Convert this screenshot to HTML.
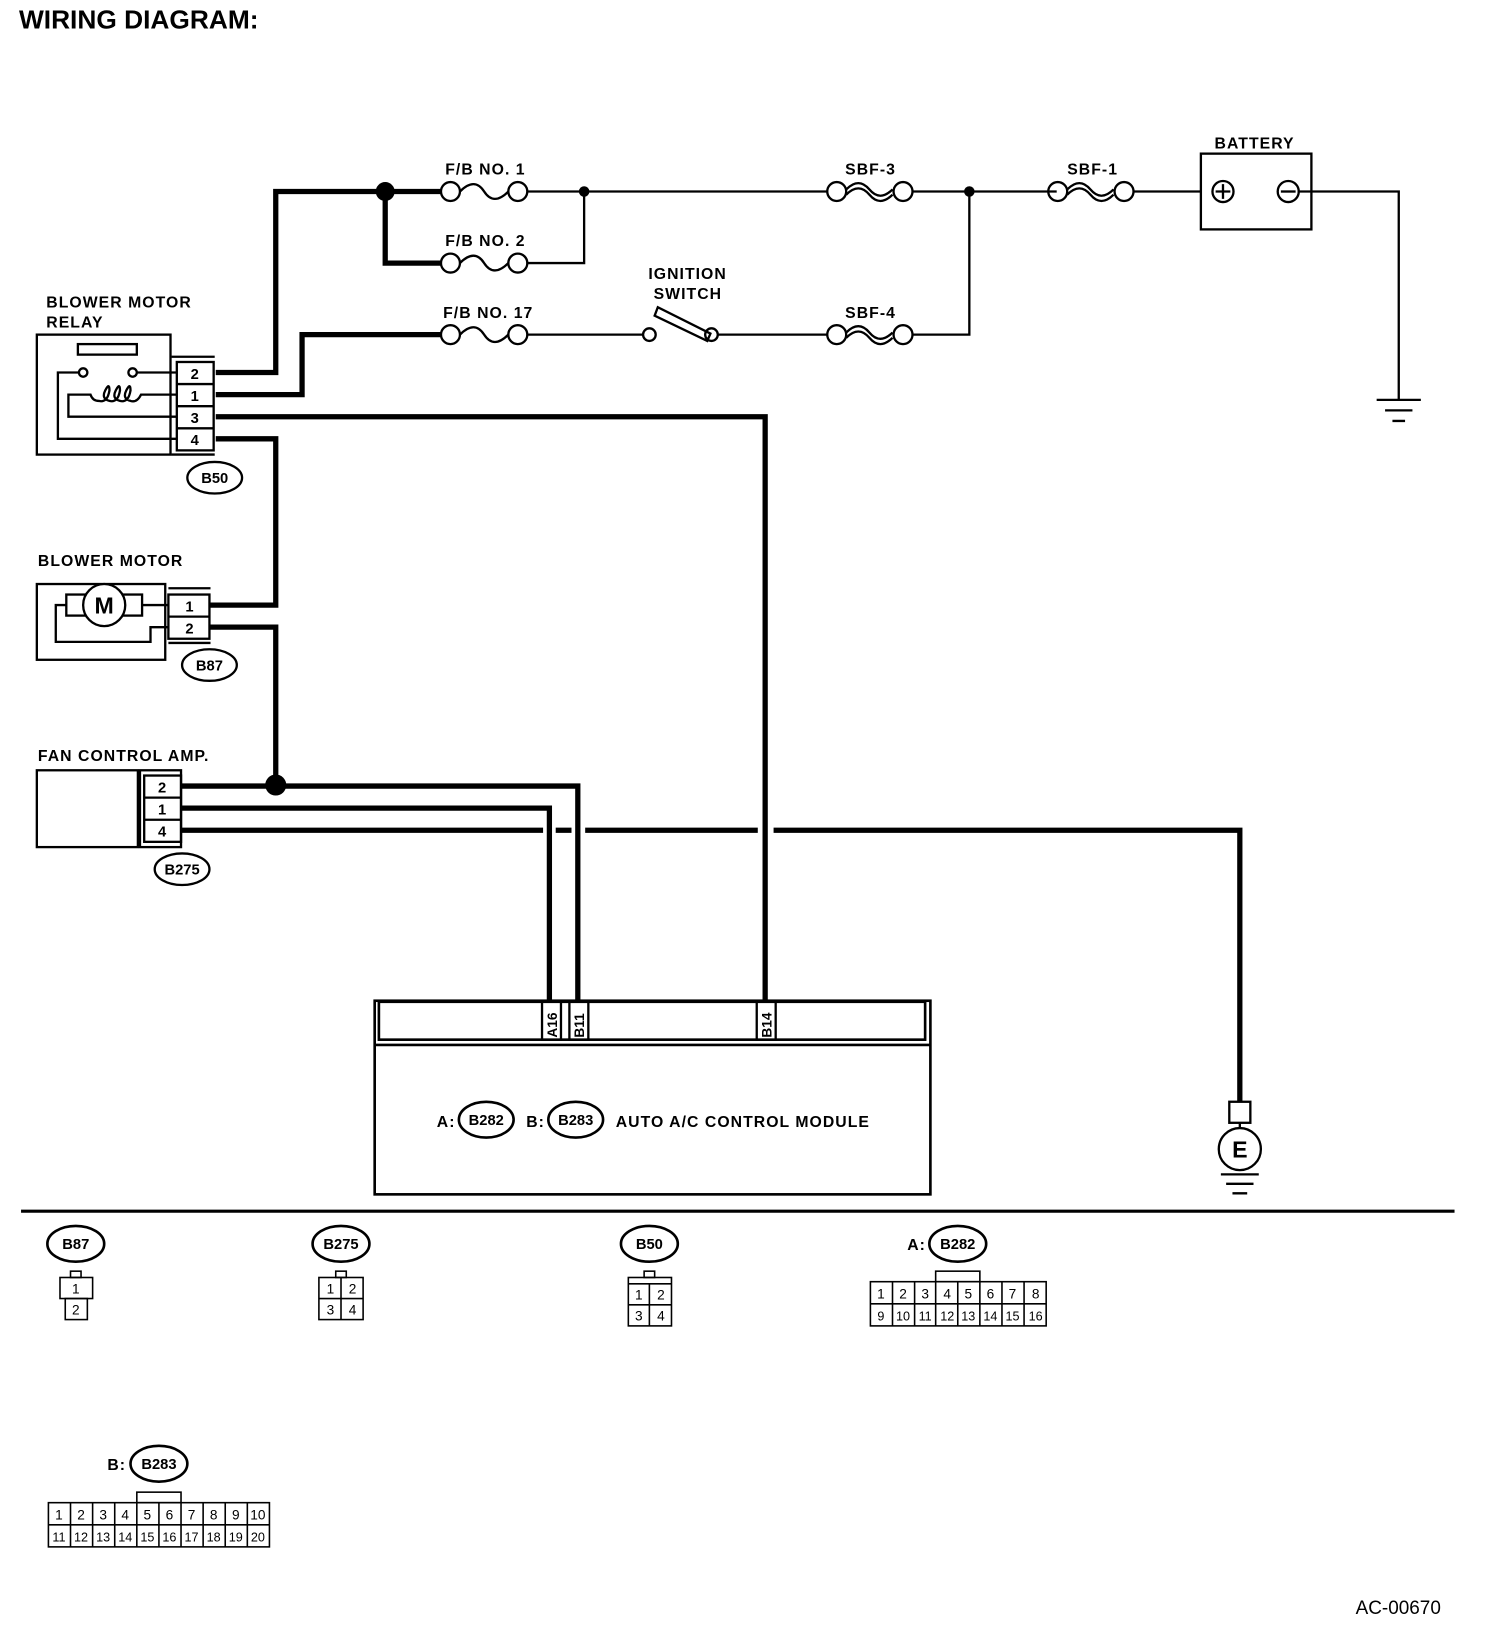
<!DOCTYPE html>
<html><head><meta charset="utf-8"><style>
html,body{margin:0;padding:0;background:#fff}
svg{display:block}
text{font-family:"Liberation Sans",Arial,sans-serif;fill:#000}
.l{font-weight:bold;font-size:15px;letter-spacing:1px}
.p{font-size:13px}
</style></head><body>
<svg width="1504" height="1650" viewBox="0 0 1429 1568" preserveAspectRatio="none" xmlns="http://www.w3.org/2000/svg">
<rect width="1440" height="1580" fill="#fff"/>
<text x="18" y="27" font-size="25" font-weight="bold">WIRING DIAGRAM:</text>

<g fill="none" stroke="#000">
<!-- thin wires -->
<g stroke-width="2.2">
<path d="M501 182H786M867 182H1004M1077 182H1141M1233 182H1329V380"/>
<path d="M501 250H555V182"/>
<path d="M501 318H611M682 318H786M867 318H921V182"/>
</g>
<!-- thick wires -->
<g stroke-width="5">
<path d="M205 354H262V182H419"/>
<path d="M366 182V250H419"/>
<path d="M205 375H287V318H419"/>
<path d="M205 396H727V950"/>
<path d="M205 417H262V575H200"/>
<path d="M200 596H262V746"/>
<path d="M172 747H549V950"/>
<path d="M172 768H522V950"/>
<path d="M172 789H516M528 789H543M556 789H720M735 789H1178V1047"/>
</g>
<!-- fuses -->
<g stroke-width="2.2">
<circle cx="428" cy="182" r="9"/><circle cx="492" cy="182" r="9"/><path d="M437 182q14-14 23 0t23 0"/>
<circle cx="428" cy="250" r="9"/><circle cx="492" cy="250" r="9"/><path d="M437 250q14-14 23 0t23 0"/>
<circle cx="428" cy="318" r="9"/><circle cx="492" cy="318" r="9"/><path d="M437 318q14-14 23 0t23 0"/>
<circle cx="795" cy="182" r="9"/><circle cx="858" cy="182" r="9"/><path d="M804 180q12-12 22 0t22 0M804 185q12-12 22 0t22 0"/>
<circle cx="795" cy="318" r="9"/><circle cx="858" cy="318" r="9"/><path d="M804 316q12-12 22 0t22 0M804 321q12-12 22 0t22 0"/>
<circle cx="1005" cy="182" r="9"/><circle cx="1068" cy="182" r="9"/><path d="M1014 180q12-12 22 0t22 0M1014 185q12-12 22 0t22 0"/>
<circle cx="617" cy="318" r="6"/><circle cx="676" cy="318" r="6"/>
<path d="M625 292l-3 8 50 24 3-7z"/>
</g>
<g stroke-width="2.2">
<!-- battery -->
<rect x="1141" y="146" width="105" height="72"/>
<circle cx="1162" cy="182" r="10"/><path d="M1155 182h14M1162 175v14"/>
<circle cx="1224" cy="182" r="10"/><path d="M1217 182h14"/>
<path d="M1308 380h42M1316 390h26M1323 400h12"/>
<!-- relay -->
<rect x="35" y="318" width="127" height="114"/>
<rect x="74" y="327" width="56" height="10"/>
<path d="M163 339h41M163 432h41"/>
<rect x="168" y="344" width="35" height="84"/>
<path d="M168 365h35M168 386h35M168 407h35"/>
<circle cx="79" cy="354" r="4"/><circle cx="126" cy="354" r="4"/>
<path d="M75 354H55V417H168M130 354H168"/>
<path d="M168 375H134q-4 8-10 6q-8-2-4-10t4 0q-2 12-10 10q-8-2-4-10t4 0q-2 12-10 10q-8-2-4-10t4 0q-2 12-10 10q-6 0-8-6H65V396H168"/>
<!-- blower motor -->
<rect x="35" y="555" width="122" height="72"/>
<path d="M160 559h40M160 611h40"/>
<rect x="160" y="565" width="39" height="42"/>
<path d="M160 586h39"/>
<rect x="63" y="565" width="72" height="20"/>
<circle cx="99" cy="575" r="20" fill="#fff"/>
<path d="M63 575H53V610H143V596H160M135 575H160"/>
<!-- fan amp -->
<rect x="35" y="732" width="96" height="73"/>
<rect x="133" y="732" width="39" height="73"/>
<rect x="137" y="737" width="35" height="63"/>
<path d="M137 758h35M137 779h35"/>
<!-- module -->
<rect x="356" y="951" width="528" height="184" stroke-width="2.5"/>
<rect x="360" y="952" width="519" height="36" stroke-width="2.5"/>
<path d="M356 993H884" stroke-width="2.5"/>
<rect x="515" y="952" width="18" height="36"/><rect x="541" y="952" width="18" height="36"/><rect x="719" y="952" width="18" height="36"/>
<!-- E ground -->
<rect x="1168" y="1047" width="20" height="20"/>
<circle cx="1178" cy="1092" r="20"/>
<path d="M1178 1067v5M1160 1116h36M1165 1125h26M1171 1134h14"/>
<path d="M20 1151H1382" stroke-width="3"/>
<!-- connector ovals -->
<ellipse cx="204" cy="454" rx="26" ry="15"/>
<ellipse cx="199" cy="632" rx="26" ry="15"/>
<ellipse cx="173" cy="826" rx="26" ry="15"/>
<ellipse cx="462" cy="1064" rx="26" ry="17" stroke-width="2.5"/>
<ellipse cx="547" cy="1064" rx="26" ry="17" stroke-width="2.5"/>
<ellipse cx="72" cy="1182" rx="27" ry="17" stroke-width="2.5"/>
<ellipse cx="324" cy="1182" rx="27" ry="17" stroke-width="2.5"/>
<ellipse cx="617" cy="1182" rx="27" ry="17" stroke-width="2.5"/>
<ellipse cx="910" cy="1182" rx="27" ry="17" stroke-width="2.5"/>
<ellipse cx="151" cy="1391" rx="27" ry="17" stroke-width="2.5"/>
</g>
<g stroke-width="1.5">
<rect x="67" y="1208" width="10" height="6"/><rect x="57" y="1214" width="31" height="20"/><rect x="62" y="1234" width="21" height="20"/>
<rect x="319" y="1208" width="10" height="6"/><rect x="303" y="1214" width="42" height="40"/><path d="M324 1214v40M303 1234h42"/>
<rect x="612" y="1208" width="10" height="6"/><rect x="597" y="1214" width="41" height="46"/><path d="M597 1220h41M617 1220v40M597 1240h41"/>
<rect x="889" y="1208" width="42" height="10"/><rect x="827" y="1218" width="167" height="42"/><path d="M827 1239h167"/>
<path d="M848 1218v42M869 1218v42M889 1218v42M910 1218v42M931 1218v42M952 1218v42M973 1218v42"/>
<rect x="130" y="1418" width="42" height="10"/><rect x="46" y="1428" width="210" height="42"/><path d="M46 1449h210"/>
<path d="M67 1428v42M88 1428v42M109 1428v42M130 1428v42M151 1428v42M172 1428v42M193 1428v42M214 1428v42M235 1428v42"/>
</g>
</g>
<!-- dots -->
<g fill="#000">
<circle cx="366" cy="182" r="9"/><circle cx="555" cy="182" r="5"/><circle cx="921" cy="182" r="5"/><circle cx="262" cy="746" r="10"/>
</g>

<text class="l" x="423" y="166">F/B NO. 1</text>
<text class="l" x="423" y="234">F/B NO. 2</text>
<text class="l" x="421" y="302">F/B NO. 17</text>
<text class="l" x="616" y="265">IGNITION</text>
<text class="l" x="621" y="284">SWITCH</text>
<text class="l" x="803" y="166">SBF-3</text>
<text class="l" x="803" y="302">SBF-4</text>
<text class="l" x="1014" y="166">SBF-1</text>
<text class="l" x="1154" y="141">BATTERY</text>
<text class="l" x="44" y="292">BLOWER MOTOR</text>
<text class="l" x="44" y="311">RELAY</text>
<text class="l" x="36" y="538">BLOWER MOTOR</text>
<text class="l" x="36" y="723">FAN CONTROL AMP.</text>
<text class="l" x="585" y="1071">AUTO A/C CONTROL MODULE</text>
<text class="l" x="415" y="1071">A:</text><text class="l" x="500" y="1071">B:</text>
<text class="l" x="862" y="1188">A:</text><text class="l" x="102" y="1397">B:</text>
<g font-weight="bold" font-size="14" text-anchor="middle">
<text x="185" y="360">2</text><text x="185" y="381">1</text><text x="185" y="402">3</text><text x="185" y="423">4</text>
<text x="180" y="581">1</text><text x="180" y="602">2</text>
<text x="154" y="753">2</text><text x="154" y="774">1</text><text x="154" y="795">4</text>
<text x="204" y="459">B50</text><text x="199" y="637">B87</text><text x="173" y="831">B275</text>
<text x="462" y="1069">B282</text><text x="547" y="1069">B283</text>
<text x="72" y="1187">B87</text><text x="324" y="1187">B275</text><text x="617" y="1187">B50</text><text x="910" y="1187">B282</text><text x="151" y="1396">B283</text>
<text x="1178" y="1100" font-size="22">E</text>
<text x="99" y="583" font-size="22">M</text>
</g>
<g font-weight="bold" font-size="13">
<text transform="translate(529 986) rotate(-90)">A16</text>
<text transform="translate(555 986) rotate(-90)">B11</text>
<text transform="translate(733 986) rotate(-90)">B14</text>
</g>
<g class="p" text-anchor="middle">
<text x="72" y="1229">1</text><text x="72" y="1249">2</text>
<text x="314" y="1229">1</text><text x="335" y="1229">2</text><text x="314" y="1249">3</text><text x="335" y="1249">4</text>
<text x="607" y="1235">1</text><text x="628" y="1235">2</text><text x="607" y="1255">3</text><text x="628" y="1255">4</text>
<text x="837" y="1234">1</text><text x="858" y="1234">2</text><text x="879" y="1234">3</text><text x="900" y="1234">4</text><text x="920" y="1234">5</text><text x="941" y="1234">6</text><text x="962" y="1234">7</text><text x="984" y="1234">8</text>
<g font-size="12"><text x="837" y="1255">9</text><text x="858" y="1255">10</text><text x="879" y="1255">11</text><text x="900" y="1255">12</text><text x="920" y="1255">13</text><text x="941" y="1255">14</text><text x="962" y="1255">15</text><text x="984" y="1255">16</text></g>
<text x="56" y="1444">1</text><text x="77" y="1444">2</text><text x="98" y="1444">3</text><text x="119" y="1444">4</text><text x="140" y="1444">5</text><text x="161" y="1444">6</text><text x="182" y="1444">7</text><text x="203" y="1444">8</text><text x="224" y="1444">9</text><text x="245" y="1444">10</text>
<g font-size="12"><text x="56" y="1465">11</text><text x="77" y="1465">12</text><text x="98" y="1465">13</text><text x="119" y="1465">14</text><text x="140" y="1465">15</text><text x="161" y="1465">16</text><text x="182" y="1465">17</text><text x="203" y="1465">18</text><text x="224" y="1465">19</text><text x="245" y="1465">20</text></g>
</g>
<text x="1288" y="1534" font-size="18">AC-00670</text>
</svg>
</body></html>
